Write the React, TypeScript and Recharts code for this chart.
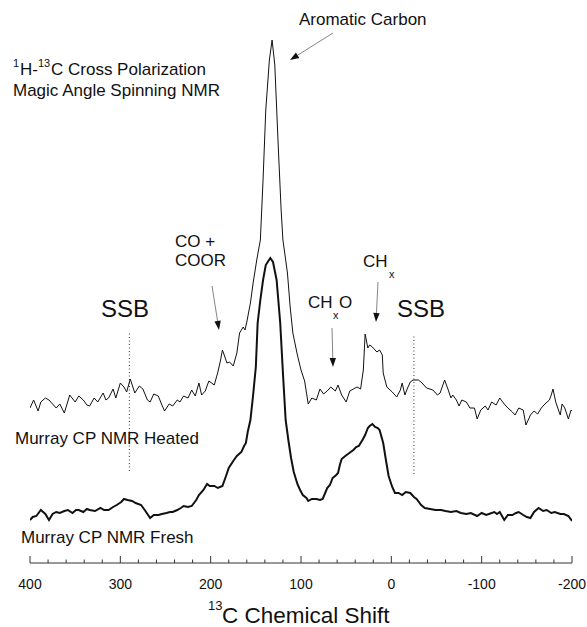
import { LineChart, Line, XAxis, YAxis, ReferenceLine } from 'recharts'

const FONT = '"Liberation Sans", Arial, Helvetica, sans-serif'

// x axis ticks (ppm), every 20, labels only on the hundreds
const shiftTicks = [
  400, 380, 360, 340, 320, 300, 280, 260, 240, 220, 200, 180, 160, 140, 120, 100,
  80, 60, 40, 20, 0, -20, -40, -60, -80, -100, -120, -140, -160, -180, -200,
]
const majorTicks = [400, 300, 200, 100, 0, -100, -200]

// spinning side bands
const ssbShift = [290, -25]

// Murray CP NMR Heated (thin trace, offset upward)
const heatedShift = [
  400, 396, 391, 388, 383, 379, 371, 367, 362, 356, 350, 346, 341, 337, 334, 329,
  325, 319, 316, 313, 308, 305, 300, 296, 293, 289, 284, 279, 275, 270, 267, 263,
  258, 254, 251, 246, 242, 237, 234, 230, 225, 221, 217, 213, 210, 206, 202, 196,
  192, 189, 187, 185, 182, 179, 175, 171, 168, 164, 162, 160, 156, 153, 149, 145,
  142, 139, 135, 132, 129, 125, 122, 120, 115, 112, 109, 104, 100, 96, 92, 88,
  83, 79, 75, 71, 67, 62, 59, 55, 50, 46, 42, 38, 34, 31, 29, 26,
  24, 21, 16, 13, 10, 9, 5, -1, -6, -10, -12, -15, -18, -21, -24, -30,
  -34, -39, -46, -51, -54, -59, -63, -66, -68, -72, -75, -78, -83, -87, -92, -95,
  -99, -104, -107, -111, -116, -120, -125, -129, -134, -137, -141, -146, -149, -154, -158, -162,
  -166, -170, -175, -177, -179, -182, -185, -187, -189, -192, -196, -199, -200,
]
const heatedIntensity = [
  155, 163, 152, 161, 165, 163, 155, 159, 150, 168, 161, 167, 163, 158, 157, 165,
  161, 170, 163, 165, 174, 165, 180, 176, 171, 184, 170, 177, 174, 163, 161, 169,
  167, 158, 152, 159, 157, 163, 161, 167, 165, 173, 167, 180, 168, 172, 182, 178,
  191, 203, 213, 208, 200, 201, 197, 210, 230, 236, 233, 241, 260, 280, 303, 323,
  383, 453, 503, 523, 498, 413, 353, 323, 290, 256, 230, 208, 193, 182, 159, 165,
  163, 174, 169, 172, 176, 172, 178, 168, 161, 172, 174, 176, 174, 193, 229, 215,
  218, 216, 211, 213, 208, 190, 176, 171, 166, 173, 180, 168, 175, 181, 183, 183,
  180, 175, 173, 168, 170, 183, 173, 165, 168, 163, 157, 163, 161, 155, 155, 144,
  153, 157, 153, 161, 158, 165, 159, 155, 151, 148, 155, 153, 138, 148, 152, 149,
  155, 159, 163, 168, 174, 161, 153, 148, 159, 155, 144, 153, 152,
]

// Murray CP NMR Fresh (thick trace)
const freshShift = [
  400, 397, 393, 388, 383, 379, 375, 371, 367, 362, 358, 353, 349, 346, 341, 337,
  334, 328, 322, 318, 313, 308, 304, 299, 296, 292, 287, 283, 277, 273, 267, 263,
  258, 254, 249, 245, 242, 237, 233, 230, 225, 221, 216, 213, 208, 204, 201, 196,
  192, 187, 183, 180, 175, 171, 166, 163, 161, 159, 156, 153, 150, 148, 145, 142,
  139, 134, 131, 127, 123, 120, 117, 114, 111, 108, 104, 101, 98, 94, 92, 88,
  83, 79, 76, 71, 68, 65, 61, 59, 57, 55, 51, 48, 45, 42, 39, 36,
  32, 29, 26, 24, 21, 18, 15, 13, 9, 6, 3, -1, -4, -8, -12, -16,
  -21, -25, -28, -33, -37, -43, -49, -55, -60, -66, -72, -77, -83, -88, -95, -100,
  -105, -108, -114, -117, -120, -125, -129, -134, -138, -141, -146, -150, -154, -158, -163, -168,
  -172, -177, -181, -187, -191, -196, -200,
]
const freshIntensity = [
  43, 46, 47, 53, 49, 43, 49, 51, 50, 52, 53, 50, 53, 53, 51, 54,
  53, 52, 55, 53, 53, 56, 58, 61, 64, 63, 62, 60, 58, 53, 45, 48,
  48, 49, 50, 51, 51, 53, 55, 57, 56, 57, 63, 68, 73, 79, 77, 77,
  75, 77, 87, 95, 102, 107, 111, 117, 120, 131, 143, 168, 196, 240, 263, 283,
  298, 305, 301, 283, 240, 190, 143, 123, 105, 91, 79, 73, 68, 65, 62, 64,
  64, 63, 64, 75, 78, 85, 88, 90, 98, 104, 107, 109, 111, 113, 116, 117,
  123, 128, 135, 137, 139, 136, 135, 133, 120, 103, 87, 76, 70, 70, 68, 71,
  70, 66, 64, 58, 55, 54, 53, 53, 52, 51, 52, 50, 49, 50, 47, 50,
  48, 49, 51, 49, 51, 43, 48, 48, 50, 51, 48, 46, 45, 51, 55, 52,
  53, 50, 51, 49, 49, 47, 42,
]

const heatedData = heatedShift.map((s, i) => ({ shift: s, v: heatedIntensity[i] }))
const freshData = freshShift.map((s, i) => ({ shift: s, v: freshIntensity[i] }))

function ShiftTick({ x, y, payload }: { x?: number; y?: number; payload?: { value: number } }) {
  const v = payload?.value ?? 0
  const major = majorTicks.includes(v)
  return (
    <g>
      <line x1={x} x2={x} y1={y} y2={(y ?? 0) - (major ? 7 : 3.5)} stroke="#333" strokeWidth={1} />
      {major && (
        <text x={x} y={(y ?? 0) + 26} textAnchor="middle" fontSize={14} fontFamily={FONT} fill="#111">
          {v}
        </text>
      )}
    </g>
  )
}

function Arrow({ x1, y1, x2, y2 }: { x1: number; y1: number; x2: number; y2: number }) {
  const a = Math.atan2(y2 - y1, x2 - x1)
  const L = 9
  const W = 3.2
  const bx = x2 - L * Math.cos(a)
  const by = y2 - L * Math.sin(a)
  const px = -Math.sin(a) * W
  const py = Math.cos(a) * W
  return (
    <g>
      <line x1={x1} y1={y1} x2={bx} y2={by} stroke="#777" strokeWidth={0.9} />
      <polygon points={`${x2},${y2} ${bx + px},${by + py} ${bx - px},${by - py}`} fill="#111" />
    </g>
  )
}

function Annotations() {
  const t = { fontFamily: FONT, fill: '#111' }
  return (
    <svg width={587} height={627} style={{ position: 'absolute', left: 0, top: 0, pointerEvents: 'none' }}>
      <text x={299} y={25} fontSize={17} {...t}>Aromatic Carbon</text>
      <Arrow x1={333} y1={33} x2={290} y2={60} />

      <text x={13} y={67} fontSize={11} {...t}>1</text>
      <text x={20} y={75} fontSize={17} {...t}>H-</text>
      <text x={38} y={67} fontSize={11} {...t}>13</text>
      <text x={51} y={75} fontSize={17} {...t}>C Cross Polarization</text>
      <text x={13} y={96} fontSize={17} {...t}>Magic Angle Spinning NMR</text>

      <text x={175} y={247} fontSize={17} {...t}>CO +</text>
      <text x={175} y={266} fontSize={17} {...t}>COOR</text>
      <Arrow x1={212} y1={286} x2={219} y2={330} />

      <text x={308} y={308} fontSize={17} {...t}>CH</text>
      <text x={333} y={319} fontSize={11} {...t}>x</text>
      <text x={339} y={308} fontSize={17} {...t}>O</text>
      <Arrow x1={332} y1={328} x2={333} y2={367} />

      <text x={363} y={267} fontSize={17} {...t}>CH</text>
      <text x={389} y={278} fontSize={11} {...t}>x</text>
      <Arrow x1={378} y1={282} x2={376} y2={322} />

      <text x={101} y={317} fontSize={24} {...t}>SSB</text>
      <text x={397} y={317} fontSize={24} {...t}>SSB</text>

      <text x={15} y={444} fontSize={17} {...t}>Murray CP NMR Heated</text>
      <text x={21} y={543} fontSize={17} {...t}>Murray CP NMR Fresh</text>

      <text x={208} y={610} fontSize={13} {...t}>13</text>
      <text x={222} y={623} fontSize={22.5} {...t}>C Chemical Shift</text>
    </svg>
  )
}

export default function App() {
  return (
    <div style={{ position: 'absolute', left: 0, top: 0, width: 587, height: 627, background: '#fff' }}>
      <LineChart width={587} height={627} margin={{ top: 0, right: 15, bottom: 0, left: 30 }}>
        <XAxis
          type="number"
          dataKey="shift"
          domain={[-200, 400]}
          reversed
          allowDataOverflow
          ticks={shiftTicks}
          interval={0}
          tickSize={0}
          tickMargin={0}
          tickLine={false}
          axisLine={{ stroke: '#333', strokeWidth: 1 }}
          tick={<ShiftTick />}
          height={64}
        />
        <YAxis type="number" domain={[0, 563]} hide allowDataOverflow />
        {ssbShift.map((s, i) => (
          <ReferenceLine
            key={s}
            segment={i === 0 ? [{ x: s, y: 92 }, { x: s, y: 230 }] : [{ x: s, y: 89 }, { x: s, y: 229 }]}
            stroke="#333"
            strokeWidth={1}
            strokeDasharray="1 2.5"
          />
        ))}
        <Line data={heatedData} dataKey="v" type="linear" stroke="#111" strokeWidth={1} dot={false} isAnimationActive={false} />
        <Line data={freshData} dataKey="v" type="linear" stroke="#111" strokeWidth={2} dot={false} isAnimationActive={false} />
      </LineChart>
      <Annotations />
    </div>
  )
}
